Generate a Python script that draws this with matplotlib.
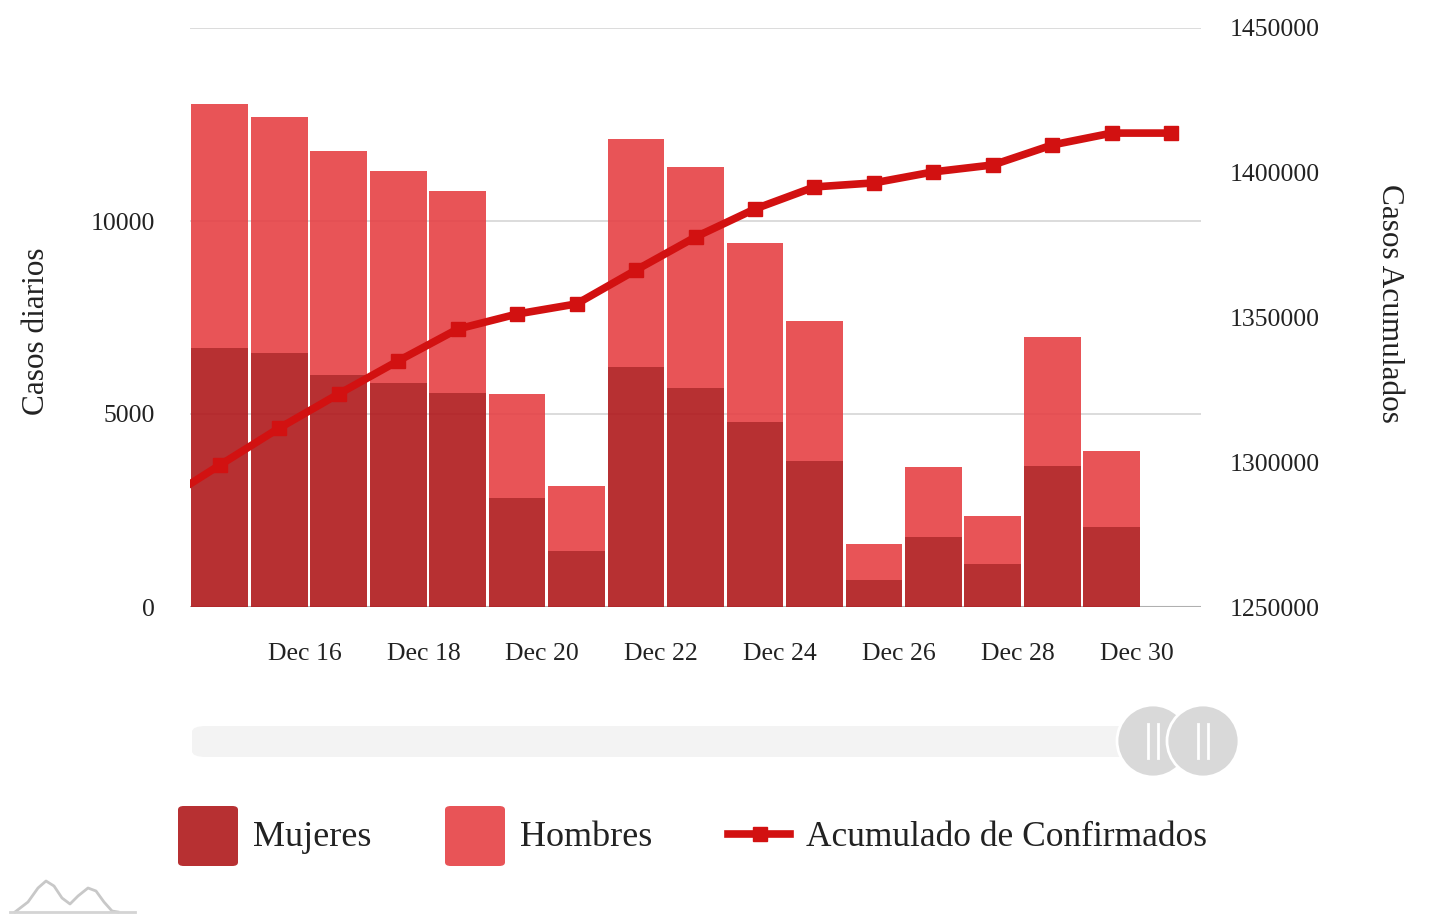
import numpy as np
import matplotlib
matplotlib.use('Agg')
import matplotlib.pyplot as plt
import matplotlib.transforms as mtransforms
from matplotlib.patches import FancyBboxPatch, Ellipse
from matplotlib.lines import Line2D

plt.rcParams['font.family'] = ['Liberation Serif', 'DejaVu Serif']

# daily cases, Dec 14 .. Dec 29
dias = ['Dec 14', 'Dec 15', 'Dec 16', 'Dec 17', 'Dec 18', 'Dec 19', 'Dec 20', 'Dec 21',
        'Dec 22', 'Dec 23', 'Dec 24', 'Dec 25', 'Dec 26', 'Dec 27', 'Dec 28', 'Dec 29']
mujeres = [6710, 6580, 6010, 5800, 5540, 2820, 1450, 6220,
           5670, 4790, 3780, 700, 1810, 1110, 3650, 2070]
total = [13030, 12690, 11810, 11290, 10780, 5520, 3130, 12120,
         11400, 9430, 7410, 1630, 3630, 2360, 6990, 4040]
hombres = [t - m for t, m in zip(total, mujeres)]

# cumulative confirmed, Dec 13 .. Dec 30
acumulado = [1286000, 1299000, 1311800, 1323600, 1335000, 1346000, 1351200, 1354700,
             1366400, 1377800, 1387500, 1395100, 1396500, 1400300, 1402700, 1409600,
             1413700, 1413700]

tick_labels = ['Dec 16', 'Dec 18', 'Dec 20', 'Dec 22', 'Dec 24', 'Dec 26', 'Dec 28', 'Dec 30']

c_muj = '#b0191c'
c_hom = '#e64145'
c_line = '#d21111'

W, H = 1432, 919
fig = plt.figure(figsize=(W / 100, H / 100), dpi=100)

def fx(px):
    return px / W

def fy(py):
    return 1 - py / H

ax = fig.add_axes([fx(190), fy(607), fx(1201) - fx(190), fy(28) - fy(607)])
ax2 = ax.twinx()

x = np.arange(len(dias)) + 0.5
ax.bar(x, mujeres, width=0.955, color=c_muj, alpha=0.9, edgecolor='none', zorder=2)
ax.bar(x, hombres, bottom=mujeres, width=0.955, color=c_hom, alpha=0.9, edgecolor='none',
       zorder=2)

xl = np.arange(len(acumulado)) - 0.5
ax2.plot(xl, acumulado, color=c_line, lw=5.5, marker='s', markersize=10, clip_on=True,
         solid_joinstyle='round', zorder=3)

ax.set_xlim(0, 17)
ax.set_ylim(0, 15000)
ax2.set_ylim(1250000, 1450000)

ax.set_yticks([0, 5000, 10000, 15000])
ax.set_yticklabels(['0', '5000', '10000', ''])
ax2.set_yticks(np.arange(1250000, 1450001, 50000))
ax2.set_yticklabels([str(v) for v in range(1250000, 1450001, 50000)])
ax.set_xticks(np.arange(2, 17, 2))
ax.set_xticklabels(tick_labels)

for a in (ax, ax2):
    for s in a.spines.values():
        s.set_visible(False)
ax.tick_params(axis='both', length=0, labelsize=18.5, colors='#222222')
ax.tick_params(axis='y', pad=25)
ax.tick_params(axis='x', pad=26)
ax2.tick_params(axis='y', length=0, labelsize=18.5, colors='#222222', pad=21)

# x labels sit a little left of the day boundary
shift = mtransforms.ScaledTranslation(-4.5 / 100, 0, fig.dpi_scale_trans)
for lbl in ax.get_xticklabels():
    lbl.set_transform(lbl.get_transform() + shift)

ax.yaxis.grid(True, color='#d6d6d6', lw=1.2, zorder=0)
ax.set_axisbelow(True)
ax.axhline(0, color='#b0b0b0', lw=1.5, zorder=1)

fig.text(fx(37), fy(331), 'Casos diarios', rotation=90, ha='center', va='center',
         fontsize=22.5, color='#222222')
fig.text(fx(1390), fy(303), 'Casos Acumulados', rotation=270, ha='center', va='center',
         fontsize=22.5, color='#222222')

# scrollbar
fig.patches.append(FancyBboxPatch((fx(192), fy(757)), fx(1150) - fx(192), fy(726) - fy(757),
                                  boxstyle='round,pad=0,rounding_size=0.01',
                                  transform=fig.transFigure, facecolor='#f3f3f3',
                                  edgecolor='none', mutation_aspect=H / W))
for cx in (1153, 1203):
    fig.patches.append(Ellipse((fx(cx), fy(741)), 72 / W, 72 / H, transform=fig.transFigure,
                               facecolor='#d9d9d9', edgecolor='white', lw=2))
    for dx in (-5, 5):
        fig.lines.append(Line2D([fx(cx + dx)] * 2, [fy(724), fy(758)], transform=fig.transFigure,
                                color='white', lw=2))

# legend
for x0, col, lab in ((178, c_muj, 'Mujeres'), (445, c_hom, 'Hombres')):
    fig.patches.append(FancyBboxPatch((fx(x0), fy(866)), fx(60), fy(806) - fy(866),
                                      boxstyle='round,pad=0,rounding_size=0.004',
                                      transform=fig.transFigure, facecolor=col, alpha=0.9,
                                      edgecolor='none'))
    fig.text(fx(x0 + 75), fy(837), lab, ha='left', va='center', fontsize=26, color='#222222')
fig.lines.append(Line2D([fx(728), fx(790)], [fy(834), fy(834)], transform=fig.transFigure,
                        color=c_line, lw=5.5))
fig.lines.append(Line2D([fx(760)], [fy(834)], transform=fig.transFigure, color=c_line,
                        marker='s', markersize=10))
fig.text(fx(806), fy(837), 'Acumulado de Confirmados', ha='left', va='center', fontsize=25.5,
         color='#222222')

# small logo
lx = [15, 28, 38, 46, 54, 62, 70, 78, 88, 96, 104, 112, 118]
ly = [912, 902, 888, 881, 886, 898, 904, 896, 888, 891, 902, 911, 912]
fig.lines.append(Line2D([fx(v) for v in lx], [fy(v) for v in ly], transform=fig.transFigure,
                        color='#c8c8c8', lw=2))
fig.lines.append(Line2D([fx(10), fx(135)], [fy(912), fy(912)], transform=fig.transFigure,
                        color='#d4d4d4', lw=2))

fig.savefig('out.png', dpi=100)
